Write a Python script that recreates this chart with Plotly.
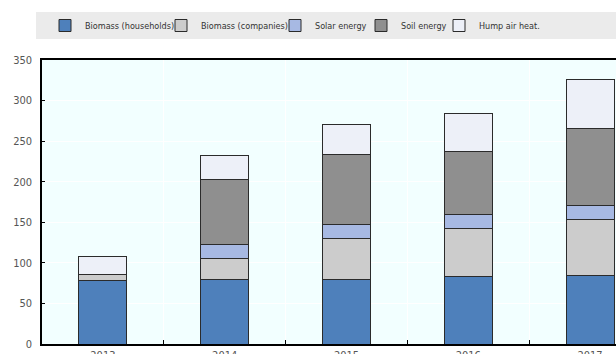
import plotly.graph_objects as go

# Heat production by source, stacked per year
years = ["2013", "2014", "2015", "2016", "2017"]
biomass_households = [78, 80, 80, 83.5, 84.5]
biomass_companies = [8, 25, 50.5, 59, 68.5]
solar_energy = [0, 17.5, 16.5, 17, 17.5]
soil_energy = [0, 80.5, 87, 78, 95]
hump_air_heat = [21.5, 29, 37, 47, 60.5]

series_names = ["Biomass (households)", "Biomass (companies)", "Solar energy",
                "Soil energy", "Hump air heat."]
series_values = [biomass_households, biomass_companies, solar_energy,
                 soil_energy, hump_air_heat]
series_colors = ["#4e80bb", "#cccccc", "#a7b9e3", "#8f8f8f", "#edf0f8"]

W, H = 616, 354
L, T, B = 42, 60, 10
plot_w = W - L
plot_h = H - T - B

FONT = "DejaVu Sans Condensed, Liberation Sans Narrow, Arial Narrow, sans-serif"

# left edge (px) of each legend swatch
legend_swatch_x = [59, 175, 289, 375, 453]
legend_ids = ["legend", "legend2", "legend3", "legend4", "legend5"]

fig = go.Figure()
for name, vals, col, lid in zip(series_names, series_values, series_colors, legend_ids):
    fig.add_trace(go.Bar(
        x=years, y=vals, name=name,
        marker=dict(color=col, line=dict(color="#2b2b2b", width=1)),
        width=0.395, legend=lid,
    ))

band_y_center = 25.5
legend_cfg = {}
for lid, sx in zip(legend_ids, legend_swatch_x):
    legend_cfg[lid] = dict(
        x=(sx - 14 - L) / plot_w, xanchor="left",
        y=(H - B - band_y_center) / plot_h, yanchor="middle",
        orientation="h", bgcolor="rgba(0,0,0,0)",
        font=dict(family=FONT, size=9, color="#333333"),
        borderwidth=0,
    )

fig.update_layout(
    width=W, height=H,
    margin=dict(l=L, r=0, t=T, b=B, autoexpand=False),
    paper_bgcolor="white",
    plot_bgcolor="#f2ffff",
    barmode="stack",
    bargap=0.6,
    showlegend=True,
    font=dict(family=FONT, size=11, color="#555555"),
    **legend_cfg,
    shapes=[dict(
        type="rect", xref="paper", yref="paper",
        x0=(36 - L) / plot_w, x1=1.0,
        y0=(H - B - 39) / plot_h, y1=(H - B - 12) / plot_h,
        fillcolor="#ebebeb", line=dict(width=0), layer="below",
    )],
)

fig.update_xaxes(
    type="category",
    range=[-0.5, 4.5 - (651 - W) / (plot_w / 4.71)],
    showline=True, linecolor="#000000", linewidth=1.5, mirror=True,
    tickson="boundaries", ticks="inside", ticklen=4, tickcolor="#000000",
    showgrid=True, gridcolor="#ffffff", gridwidth=1,
    tickfont=dict(family=FONT, size=11, color="#555555"),
    automargin=False, fixedrange=True,
)
fig.update_yaxes(
    range=[0, 350], dtick=50,
    showline=True, linecolor="#000000", linewidth=1.5,
    ticks="inside", ticklen=3, tickcolor="#000000",
    showgrid=True, gridcolor="#ffffff", gridwidth=1,
    zeroline=False,
    tickfont=dict(family=FONT, size=11, color="#555555"),
    ticklabelstandoff=6,
    automargin=False, fixedrange=True,
)

fig.write_html("out.html", config={"displayModeBar": False})
